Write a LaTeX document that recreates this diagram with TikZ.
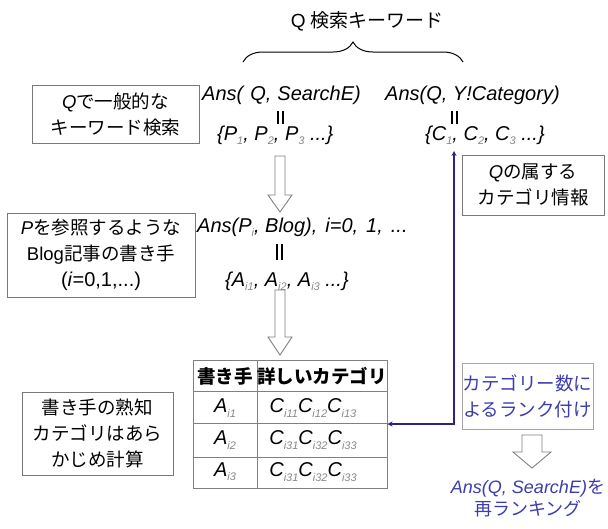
\documentclass[tikz,border=0pt]{standalone}
\usepackage{fontspec}
\setmainfont{Noto Sans CJK JP}
\newfontfamily\lat{Liberation Sans}
\usetikzlibrary{decorations.pathreplacing,arrows.meta}
\definecolor{bluetxt}{RGB}{60,60,175}
\definecolor{blueline}{RGB}{45,35,130}
\definecolor{subgray}{RGB}{135,135,135}
\definecolor{boxgray}{RGB}{120,120,120}
\newcommand\li[1]{{\lat\itshape #1}}
\newcommand\sbg[1]{\raisebox{-0.4ex}{\lat\itshape\fontsize{11}{11}\selectfont\color{subgray}#1}}
\begin{document}
\begin{tikzpicture}[x=1pt,y=-1pt,
  box/.style={draw=boxgray, line width=0.9pt, align=center, inner sep=0pt, font=\fontsize{18.5}{26}\selectfont},
  ltx/.style={font=\lat\itshape\fontsize{20}{22}\selectfont, inner sep=0pt},
  hollowst/.style={draw=gray, fill=white, line width=0.9pt, line join=miter},
  eqbar/.style={line width=1.7pt},
  tline/.style={draw=gray, line width=1pt}
]
\useasboundingbox (0,0) rectangle (608,528);

% title and brace
\node[font=\fontsize{19}{22}\selectfont] (title) at (367,21) {{\lat Q} 検索キーワード};
\draw[line width=1pt, decorate, decoration={brace, amplitude=20pt, aspect=0.5}] (243,62) -- (463,62);

% answer lines
\node[ltx, anchor=west] (ans1) at (202,95) {Ans(\hspace{0.35em}Q,\hspace{0.3em}SearchE)};
\node[ltx, anchor=west] (ans2) at (385,95) {Ans(Q, Y!Category)};
\draw[eqbar] (278,111) -- (278,124) (283,111) -- (283,124);
\draw[eqbar] (452,111) -- (452,124) (457,111) -- (457,124);
\node[ltx, anchor=west] (pset) at (217,135) {\{P\sbg{1}, P\sbg{2}, P\sbg{3} ...\}};
\node[ltx, anchor=west] (cset) at (425,135) {\{C\sbg{1}, C\sbg{2}, C\sbg{3} ...\}};

% left boxes
\node[box, minimum width=167pt, minimum height=58pt] (b1) at (115.5,114) {\li{Q}で一般的な\\キーワード検索};
\node[box, minimum width=188pt, minimum height=84pt] (b2) at (101,255) {\li{P}を参照するような\\{\lat Blog}記事の書き手\\{\lat\fontsize{20}{22}\selectfont(\textit{i}=0,1,...)}};
\node[box, minimum width=151pt, minimum height=83pt] (b3) at (97.5,433.5) {書き手の熟知\\カテゴリはあら\\かじめ計算};

% right boxes
\node[box, minimum width=142pt, minimum height=60pt] (b4) at (533,185) {\li{Q}の属する\\カテゴリ情報};
\node[box, draw=gray!70, text=bluetxt, minimum width=131pt, minimum height=66pt] (b5) at (527.5,396) {カテゴリー数に\\よるランク付け};

% hollow arrow 1
\draw[hollowst] (275,156) -- (285,156) -- (285,195) -- (292,195) -- (280,212) -- (268,195) -- (275,195) -- cycle;
\node[ltx, anchor=west] (pblog) at (197,227) {Ans(P\sbg{i}, Blog),\hspace{0.4em}i=0,\hspace{0.4em}1,\hspace{0.4em}...};
\draw[eqbar] (277,244) -- (277,260) (282,244) -- (282,260);
\node[ltx, anchor=west] (aset) at (225,281) {\{A\sbg{i1}, A\sbg{i2}, A\sbg{i3} ...\}};
% hollow arrow 2
\draw[hollowst] (275,290) -- (285,290) -- (285,337) -- (292,337) -- (280,355) -- (268,337) -- (275,337) -- cycle;

% table
\node[tline, minimum width=194pt, minimum height=128pt, inner sep=0pt] (tab) at (290,424) {};
\draw[tline] (193,391) -- (387,391) (193,423) -- (387,423) (193,457) -- (387,457) (257,360) -- (257,488);
\node[font=\bfseries\fontsize{18.5}{20}\selectfont] (h11) at (225,376) {書き手};
\node[font=\bfseries\fontsize{18.5}{20}\selectfont] (h12) at (322,376) {詳しいカテゴリ};
\node[ltx] (a1) at (225,408) {A\sbg{i1}};
\node[ltx] (a2) at (225,440) {A\sbg{i2}};
\node[ltx] (a3) at (225,472) {A\sbg{i3}};
\node[ltx] (c1) at (313,408) {C\sbg{i11}C\sbg{i12}C\sbg{i13}};
\node[ltx] (c2) at (313,440) {C\sbg{i31}C\sbg{i32}C\sbg{i33}};
\node[ltx] (c3) at (313,472) {C\sbg{i31}C\sbg{i32}C\sbg{i33}};

% blue connector
\coordinate (ctop) at (454,151);
\draw[blueline, line width=2pt, {Stealth[length=5pt,width=5pt]}-{Stealth[length=5pt,width=5pt]}] (ctop) |- (tab.east);

% hollow arrow 3 and rerank
\draw[hollowst] (522,435) -- (542,435) -- (542,452) -- (551,452) -- (532,468) -- (513,452) -- (522,452) -- cycle;
\node[text=bluetxt, align=center, font=\fontsize{18}{22}\selectfont, inner sep=0pt] (rr) at (528,498) {\li{Ans(Q, SearchE)}を\\再ランキング};
\end{tikzpicture}
\end{document}
